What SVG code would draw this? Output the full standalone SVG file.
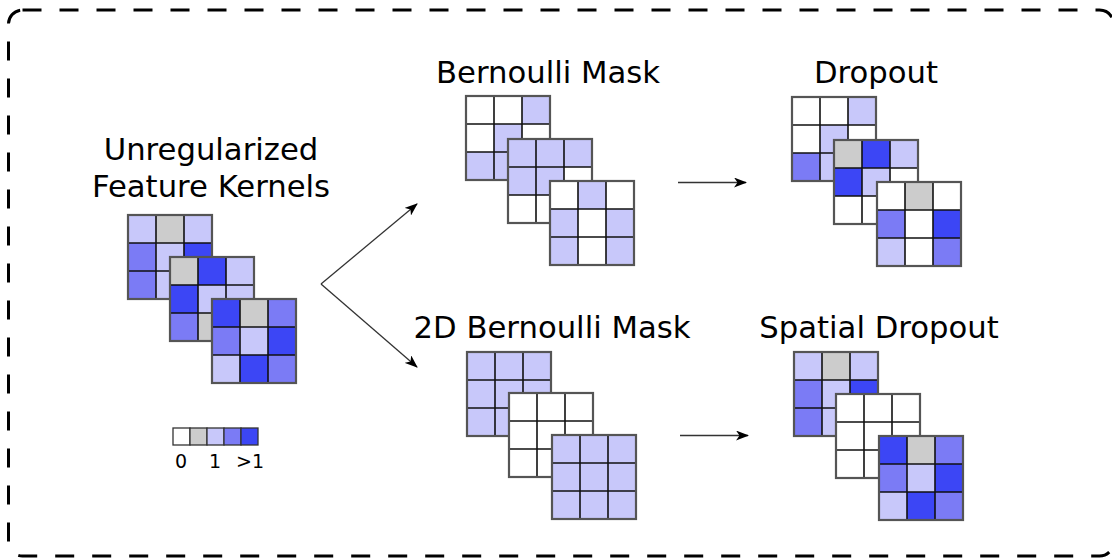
<svg xmlns="http://www.w3.org/2000/svg" xmlns:xlink="http://www.w3.org/1999/xlink" width="1112" height="559" viewBox="0 0 1112 559">
<style>
.w{fill:#ffffff}.g{fill:#cccccc}.l{fill:#c8c8fa}.m{fill:#7b7bf5}.d{fill:#3c46f5}
.t{font-family:"DejaVu Sans",sans-serif;font-size:30.7px;fill:#000;text-anchor:middle}
.s{font-family:"DejaVu Sans",sans-serif;font-size:19px;fill:#000;text-anchor:middle}
.gl{fill:none;stroke:#111;stroke-width:1.6}
.go{fill:none;stroke:#555;stroke-width:2.2}
.arr{stroke:#333;stroke-width:1.3;fill:none;marker-end:url(#ah)}
</style>
<defs>
<marker id="ah" markerUnits="userSpaceOnUse" markerWidth="14" markerHeight="10" refX="12" refY="5" orient="auto">
<path d="M0,0 L13,5 L0,10 L3.5,5 Z" fill="#000"/>
</marker>
<g id="lines">
<path class="gl" d="M28,0V84M56,0V84M0,28H84M0,56H84"/>
<rect class="go" x="0" y="0" width="84" height="84"/>
</g>
</defs>
<rect x="8.5" y="10" width="1105" height="546" rx="14" fill="none" stroke="#000" stroke-width="3" stroke-dasharray="19 18"/>

<g id="connectors">
<path class="arr" d="M321,284 L417,204"/>
<path class="arr" d="M321,284 L417,367"/>
<path class="arr" d="M678,182.5 L746,182.5"/>
<path class="arr" d="M680,435.5 L748,435.5"/>
</g>

<g id="kernels">
<text class="t" x="211" y="160">Unregularized</text>
<text class="t" x="211" y="197">Feature Kernels</text>
<g transform="translate(128,215)">
<rect class="l" x="0" y="0" width="28" height="28"/><rect class="g" x="28" y="0" width="28" height="28"/><rect class="l" x="56" y="0" width="28" height="28"/>
<rect class="m" x="0" y="28" width="28" height="28"/><rect class="l" x="28" y="28" width="28" height="28"/><rect class="d" x="56" y="28" width="28" height="28"/>
<rect class="m" x="0" y="56" width="28" height="28"/><rect class="l" x="28" y="56" width="28" height="28"/><rect class="l" x="56" y="56" width="28" height="28"/>
<use xlink:href="#lines"/>
</g>
<g transform="translate(170,257)">
<rect class="g" x="0" y="0" width="28" height="28"/><rect class="d" x="28" y="0" width="28" height="28"/><rect class="l" x="56" y="0" width="28" height="28"/>
<rect class="d" x="0" y="28" width="28" height="28"/><rect class="l" x="28" y="28" width="28" height="28"/><rect class="l" x="56" y="28" width="28" height="28"/>
<rect class="m" x="0" y="56" width="28" height="28"/><rect class="g" x="28" y="56" width="28" height="28"/><rect class="l" x="56" y="56" width="28" height="28"/>
<use xlink:href="#lines"/>
</g>
<g transform="translate(212,299)">
<rect class="d" x="0" y="0" width="28" height="28"/><rect class="g" x="28" y="0" width="28" height="28"/><rect class="m" x="56" y="0" width="28" height="28"/>
<rect class="m" x="0" y="28" width="28" height="28"/><rect class="l" x="28" y="28" width="28" height="28"/><rect class="d" x="56" y="28" width="28" height="28"/>
<rect class="l" x="0" y="56" width="28" height="28"/><rect class="d" x="28" y="56" width="28" height="28"/><rect class="m" x="56" y="56" width="28" height="28"/>
<use xlink:href="#lines"/>
</g>
</g>

<g id="legend">
<rect class="w" x="173" y="428" width="17" height="17" stroke="#333" stroke-width="1.3"/>
<rect class="g" x="190" y="428" width="17" height="17" stroke="#333" stroke-width="1.3"/>
<rect class="l" x="207" y="428" width="17" height="17" stroke="#333" stroke-width="1.3"/>
<rect class="m" x="224" y="428" width="17" height="17" stroke="#333" stroke-width="1.3"/>
<rect class="d" x="241" y="428" width="17" height="17" stroke="#333" stroke-width="1.3"/>
<text class="s" x="181" y="468">0</text>
<text class="s" x="215" y="468">1</text>
<text class="s" x="250" y="468">&gt;1</text>
</g>

<g id="bernoulli">
<text class="t" x="548" y="83">Bernoulli Mask</text>
<g transform="translate(466,96)">
<rect class="w" x="0" y="0" width="28" height="28"/><rect class="w" x="28" y="0" width="28" height="28"/><rect class="l" x="56" y="0" width="28" height="28"/>
<rect class="w" x="0" y="28" width="28" height="28"/><rect class="l" x="28" y="28" width="28" height="28"/><rect class="w" x="56" y="28" width="28" height="28"/>
<rect class="l" x="0" y="56" width="28" height="28"/><rect class="l" x="28" y="56" width="28" height="28"/><rect class="w" x="56" y="56" width="28" height="28"/>
<use xlink:href="#lines"/>
</g>
<g transform="translate(508,139)">
<rect class="l" x="0" y="0" width="28" height="28"/><rect class="l" x="28" y="0" width="28" height="28"/><rect class="l" x="56" y="0" width="28" height="28"/>
<rect class="l" x="0" y="28" width="28" height="28"/><rect class="l" x="28" y="28" width="28" height="28"/><rect class="w" x="56" y="28" width="28" height="28"/>
<rect class="w" x="0" y="56" width="28" height="28"/><rect class="w" x="28" y="56" width="28" height="28"/><rect class="w" x="56" y="56" width="28" height="28"/>
<use xlink:href="#lines"/>
</g>
<g transform="translate(550,181)">
<rect class="w" x="0" y="0" width="28" height="28"/><rect class="l" x="28" y="0" width="28" height="28"/><rect class="w" x="56" y="0" width="28" height="28"/>
<rect class="l" x="0" y="28" width="28" height="28"/><rect class="w" x="28" y="28" width="28" height="28"/><rect class="l" x="56" y="28" width="28" height="28"/>
<rect class="l" x="0" y="56" width="28" height="28"/><rect class="w" x="28" y="56" width="28" height="28"/><rect class="l" x="56" y="56" width="28" height="28"/>
<use xlink:href="#lines"/>
</g>
</g>

<g id="dropout">
<text class="t" x="876" y="83">Dropout</text>
<g transform="translate(792,97)">
<rect class="w" x="0" y="0" width="28" height="28"/><rect class="w" x="28" y="0" width="28" height="28"/><rect class="l" x="56" y="0" width="28" height="28"/>
<rect class="w" x="0" y="28" width="28" height="28"/><rect class="l" x="28" y="28" width="28" height="28"/><rect class="w" x="56" y="28" width="28" height="28"/>
<rect class="m" x="0" y="56" width="28" height="28"/><rect class="l" x="28" y="56" width="28" height="28"/><rect class="w" x="56" y="56" width="28" height="28"/>
<use xlink:href="#lines"/>
</g>
<g transform="translate(834,140)">
<rect class="g" x="0" y="0" width="28" height="28"/><rect class="d" x="28" y="0" width="28" height="28"/><rect class="l" x="56" y="0" width="28" height="28"/>
<rect class="d" x="0" y="28" width="28" height="28"/><rect class="l" x="28" y="28" width="28" height="28"/><rect class="w" x="56" y="28" width="28" height="28"/>
<rect class="w" x="0" y="56" width="28" height="28"/><rect class="w" x="28" y="56" width="28" height="28"/><rect class="w" x="56" y="56" width="28" height="28"/>
<use xlink:href="#lines"/>
</g>
<g transform="translate(877,182)">
<rect class="w" x="0" y="0" width="28" height="28"/><rect class="g" x="28" y="0" width="28" height="28"/><rect class="w" x="56" y="0" width="28" height="28"/>
<rect class="m" x="0" y="28" width="28" height="28"/><rect class="w" x="28" y="28" width="28" height="28"/><rect class="d" x="56" y="28" width="28" height="28"/>
<rect class="l" x="0" y="56" width="28" height="28"/><rect class="w" x="28" y="56" width="28" height="28"/><rect class="m" x="56" y="56" width="28" height="28"/>
<use xlink:href="#lines"/>
</g>
</g>

<g id="bernoulli2d">
<text class="t" x="552" y="338">2D Bernoulli Mask</text>
<g transform="translate(467,352)">
<rect class="l" x="0" y="0" width="84" height="84"/>
<use xlink:href="#lines"/>
</g>
<g transform="translate(509,393)">
<rect class="w" x="0" y="0" width="84" height="84"/>
<use xlink:href="#lines"/>
</g>
<g transform="translate(552,435)">
<rect class="l" x="0" y="0" width="84" height="84"/>
<use xlink:href="#lines"/>
</g>
</g>

<g id="spatial">
<text class="t" x="879" y="338">Spatial Dropout</text>
<g transform="translate(794,352)">
<rect class="l" x="0" y="0" width="28" height="28"/><rect class="g" x="28" y="0" width="28" height="28"/><rect class="l" x="56" y="0" width="28" height="28"/>
<rect class="m" x="0" y="28" width="28" height="28"/><rect class="l" x="28" y="28" width="28" height="28"/><rect class="d" x="56" y="28" width="28" height="28"/>
<rect class="m" x="0" y="56" width="28" height="28"/><rect class="l" x="28" y="56" width="28" height="28"/><rect class="l" x="56" y="56" width="28" height="28"/>
<use xlink:href="#lines"/>
</g>
<g transform="translate(836,394)">
<rect class="w" x="0" y="0" width="84" height="84"/>
<use xlink:href="#lines"/>
</g>
<g transform="translate(879,436)">
<rect class="d" x="0" y="0" width="28" height="28"/><rect class="g" x="28" y="0" width="28" height="28"/><rect class="m" x="56" y="0" width="28" height="28"/>
<rect class="m" x="0" y="28" width="28" height="28"/><rect class="l" x="28" y="28" width="28" height="28"/><rect class="d" x="56" y="28" width="28" height="28"/>
<rect class="l" x="0" y="56" width="28" height="28"/><rect class="d" x="28" y="56" width="28" height="28"/><rect class="m" x="56" y="56" width="28" height="28"/>
<use xlink:href="#lines"/>
</g>
</g>
</svg>
